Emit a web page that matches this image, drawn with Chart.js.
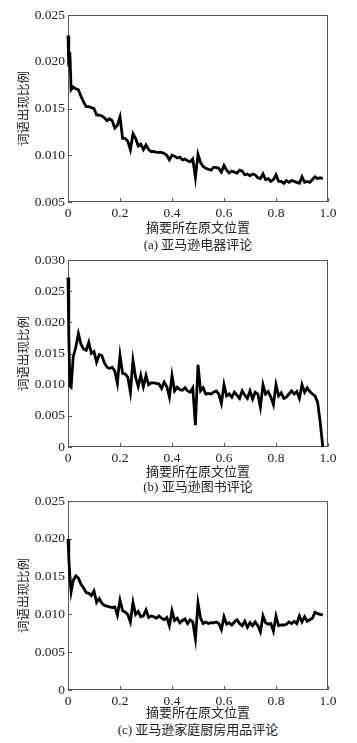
<!DOCTYPE html>
<html>
<head>
<meta charset="utf-8">
<script src="https://cdn.jsdelivr.net/npm/chart.js@4"></script>
<style>
  html, body { margin: 0; padding: 0; background: #fff; }
  body { width: 357px; height: 743px; position: relative; overflow: hidden; }
  .panel { position: absolute; left: 0; width: 357px; }
  .panel canvas { display: block; }
  .caption {
    position: absolute; left: 68px; width: 260px; text-align: center;
    font: 13px "Liberation Serif", "DejaVu Serif", "Noto Sans CJK SC", serif; color: #222;
    line-height: 16px; margin-top: -8px;
  }
</style>
</head>
<body>
<div class="panel" id="pa"><canvas id="chart-a"></canvas></div>
<div class="panel" id="pb"><canvas id="chart-b"></canvas></div>
<div class="panel" id="pc"><canvas id="chart-c"></canvas></div>
<div class="caption" style="top:245px">(a) 亚马逊电器评论</div>
<div class="caption" style="top:487px">(b) 亚马逊图书评论</div>
<div class="caption" style="top:730px">(c) 亚马逊家庭厨房用品评论</div>
<script>
// position of the summary sentence in the source text (0..1)
const pos = [0, 0.003, 0.007, 0.012, 0.02, 0.03, 0.04, 0.05, 0.06, 0.07, 0.08, 0.09,
  0.10, 0.11, 0.12, 0.13, 0.14, 0.15, 0.16, 0.17, 0.18, 0.19,
  0.20, 0.21, 0.22, 0.23, 0.24, 0.25, 0.26, 0.27, 0.28, 0.29,
  0.30, 0.31, 0.32, 0.33, 0.34, 0.35, 0.36, 0.37, 0.38, 0.39,
  0.40, 0.41, 0.42, 0.43, 0.44, 0.45, 0.46, 0.47, 0.48, 0.49,
  0.50, 0.51, 0.52, 0.53, 0.54, 0.55, 0.56, 0.57, 0.58, 0.59,
  0.60, 0.61, 0.62, 0.63, 0.64, 0.65, 0.66, 0.67, 0.68, 0.69,
  0.70, 0.71, 0.72, 0.73, 0.74, 0.75, 0.76, 0.77, 0.78, 0.79,
  0.80, 0.81, 0.82, 0.83, 0.84, 0.85, 0.86, 0.87, 0.88, 0.89,
  0.90, 0.91, 0.92, 0.93, 0.94, 0.95, 0.96, 0.97, 0.98];

// (a) electronics reviews
const ratioA = [0.0228, 0.0195, 0.0210, 0.0170, 0.0173, 0.0171, 0.0170, 0.0163, 0.0157, 0.0152, 0.0152, 0.0151,
  0.0150, 0.0143, 0.0143, 0.0142, 0.0140, 0.0137, 0.0139, 0.0137, 0.0129, 0.0132,
  0.0141, 0.0118, 0.0118, 0.0115, 0.0106, 0.0123, 0.0118, 0.0110, 0.0112, 0.0106,
  0.0111, 0.0106, 0.0104, 0.0104, 0.0103, 0.0103, 0.0103, 0.0102, 0.0100, 0.0095,
  0.0100, 0.0099, 0.0097, 0.0098, 0.0095, 0.0096, 0.0094, 0.0093, 0.0096, 0.0076,
  0.0101, 0.0092, 0.0088, 0.0086, 0.0085, 0.0084, 0.0087, 0.0087, 0.0086, 0.0082,
  0.0089, 0.0084, 0.0081, 0.0083, 0.0082, 0.0081, 0.0084, 0.0083, 0.0079, 0.0080,
  0.0078, 0.0080, 0.0079, 0.0076, 0.0075, 0.0080, 0.0074, 0.0075, 0.0072, 0.0074,
  0.0079, 0.0072, 0.0072, 0.0070, 0.0073, 0.0071, 0.0073, 0.0072, 0.0071, 0.0070,
  0.0077, 0.0071, 0.0072, 0.0071, 0.0074, 0.0077, 0.0075, 0.0076, 0.0075];

// (b) book reviews
const ratioB = [0.0272, 0.0182, 0.0098, 0.0096, 0.0145, 0.0160, 0.0182, 0.0165, 0.0157, 0.0155, 0.0168, 0.0150,
  0.0153, 0.0136, 0.0148, 0.0147, 0.0135, 0.0128, 0.0126, 0.0128, 0.0122, 0.0102,
  0.0147, 0.0118, 0.0117, 0.0112, 0.0088, 0.0139, 0.0112, 0.0097, 0.0115, 0.0097,
  0.0115, 0.0100, 0.0103, 0.0103, 0.0102, 0.0101, 0.0094, 0.0104, 0.0097, 0.0080,
  0.0115, 0.0090, 0.0096, 0.0092, 0.0091, 0.0095, 0.0090, 0.0088, 0.0095, 0.0035,
  0.0132, 0.0090, 0.0095, 0.0085, 0.0086, 0.0085, 0.0088, 0.0090, 0.0085, 0.0070,
  0.0100, 0.0082, 0.0085, 0.0080, 0.0088, 0.0083, 0.0078, 0.0090, 0.0083, 0.0078,
  0.0090, 0.0077, 0.0088, 0.0085, 0.0064, 0.0100, 0.0085, 0.0089, 0.0080, 0.0068,
  0.0100, 0.0082, 0.0087, 0.0078, 0.0080, 0.0085, 0.0090, 0.0085, 0.0089, 0.0078,
  0.0100, 0.0088, 0.0095, 0.0089, 0.0085, 0.0082, 0.0072, 0.0040, 0.0000];

// (c) home & kitchen reviews
const ratioC = [0.0200, 0.0175, 0.0150, 0.0130, 0.0145, 0.0151, 0.0148, 0.0140, 0.0135, 0.0129, 0.0128, 0.0125,
  0.0131, 0.0116, 0.0121, 0.0115, 0.0112, 0.0111, 0.0110, 0.0109, 0.0110, 0.0099,
  0.0119, 0.0105, 0.0103, 0.0100, 0.0090, 0.0116, 0.0100, 0.0104, 0.0097, 0.0098,
  0.0106, 0.0096, 0.0098, 0.0097, 0.0095, 0.0098, 0.0095, 0.0093, 0.0096, 0.0085,
  0.0105, 0.0092, 0.0095, 0.0089, 0.0092, 0.0094, 0.0088, 0.0093, 0.0090, 0.0068,
  0.0115, 0.0095, 0.0088, 0.0090, 0.0088, 0.0089, 0.0089, 0.0090, 0.0088, 0.0080,
  0.0097, 0.0087, 0.0089, 0.0086, 0.0090, 0.0093, 0.0088, 0.0085, 0.0091, 0.0083,
  0.0089, 0.0085, 0.0090, 0.0085, 0.0077, 0.0098, 0.0089, 0.0087, 0.0088, 0.0078,
  0.0098, 0.0085, 0.0086, 0.0086, 0.0087, 0.0090, 0.0088, 0.0091, 0.0088, 0.0098,
  0.0090, 0.0097, 0.0091, 0.0093, 0.0095, 0.0103, 0.0101, 0.0100, 0.0099];

const xTitle = '摘要所在原文位置';
const yTitle = '词语出现比例';

const SERIF = '"Liberation Serif", "DejaVu Serif", serif';
const CJK = '"Liberation Serif", "Noto Sans CJK SC", sans-serif';

// box frame + small inward ticks, like the printed figure
const framePlugin = {
    id: 'frame',
    beforeDatasetsDraw(chart) {
        const { ctx, chartArea: a, scales } = chart;
        ctx.save();
        ctx.strokeStyle = '#555';
        ctx.lineWidth = 1;
        ctx.strokeRect(a.left + 0.5, a.top + 0.5, a.width - 1, a.height - 1);
        ctx.beginPath();
        scales.x.ticks.forEach((t, i) => {
            const px = Math.round(scales.x.getPixelForTick(i)) + 0.5;
            ctx.moveTo(px, a.bottom);
            ctx.lineTo(px, a.bottom - 4);
        });
        scales.y.ticks.forEach((t, i) => {
            const py = Math.round(scales.y.getPixelForTick(i)) + 0.5;
            ctx.moveTo(a.left, py);
            ctx.lineTo(a.left + 4, py);
        });
        ctx.stroke();
        ctx.restore();
    }
};

function makePanel(id, panelId, values, cfg) {
    const panel = document.getElementById(panelId);
    const height = cfg.titleY + 8 - cfg.top;
    panel.style.top = cfg.top + 'px';
    panel.style.height = height + 'px';
    const canvas = document.getElementById(id);
    canvas.width = 357;
    canvas.height = height;

    new Chart(canvas.getContext('2d'), {
        type: 'line',
        data: {
            datasets: [{
                data: pos.map((p, i) => ({ x: p, y: values[i] })),
                borderColor: '#000',
                borderWidth: 2.8,
                pointRadius: 0,
                tension: 0,
                clip: false,
            }],
        },
        options: {
            responsive: false,
            animation: false,
            devicePixelRatio: 1,
            layout: { padding: { top: cfg.plotTop - cfg.top, right: 29, left: 0, bottom: 0 } },
            plugins: { legend: { display: false }, tooltip: { enabled: false } },
            scales: {
                x: {
                    type: 'linear',
                    min: 0, max: 1,
                    afterBuildTicks: (s) => { s.ticks = [0, 0.2, 0.4, 0.6, 0.8, 1.0].map(v => ({ value: v })); },
                    afterFit: (s) => { s.height = cfg.titleY + 8 - cfg.plotBottom; },
                    grid: { display: false, drawTicks: false },
                    border: { display: false },
                    ticks: {
                        padding: 3,
                        color: '#222',
                        font: { family: SERIF, size: 13.5 },
                        maxRotation: 0,
                        callback: (v) => v === 0 ? '0' : v.toFixed(1),
                    },
                    title: {
                        display: true, text: xTitle, color: '#222',
                        font: { family: CJK, size: 13 },
                        padding: { top: 0, bottom: 0 },
                    },
                },
                y: {
                    min: cfg.yMin, max: cfg.yMax,
                    afterBuildTicks: (s) => { s.ticks = cfg.yTicks.map(v => ({ value: v })); },
                    afterFit: (s) => { s.width = 68; },
                    grid: { display: false, drawTicks: false },
                    border: { display: false },
                    ticks: {
                        padding: 3,
                        color: '#222',
                        font: { family: SERIF, size: 13.5 },
                        callback: (v) => v === 0 ? '0' : v.toFixed(3),
                    },
                    title: {
                        display: true, text: yTitle, color: '#222',
                        font: { family: CJK, size: 12.5 },
                        padding: { top: 17, bottom: 0 },
                    },
                },
            },
        },
        plugins: [framePlugin],
    });
}

function drawAll() {
    makePanel('chart-a', 'pa', ratioA, {
        top: 0, plotTop: 15, plotBottom: 202, titleY: 228,
        yMin: 0.005, yMax: 0.025, yTicks: [0.005, 0.010, 0.015, 0.020, 0.025],
    });
    makePanel('chart-b', 'pb', ratioB, {
        top: 245, plotTop: 260, plotBottom: 447, titleY: 472,
        yMin: 0, yMax: 0.030, yTicks: [0, 0.005, 0.010, 0.015, 0.020, 0.025, 0.030],
    });
    makePanel('chart-c', 'pc', ratioC, {
        top: 490, plotTop: 501, plotBottom: 690, titleY: 713,
        yMin: 0, yMax: 0.025, yTicks: [0, 0.005, 0.010, 0.015, 0.020, 0.025],
    });
}

// make sure the serif face is ready before the canvases measure text
Promise.all([
    document.fonts.load('13px "Liberation Serif"'),
    document.fonts.load('13px "Noto Sans CJK SC"', '词语'),
]).then(drawAll, drawAll);
</script>
</body>
</html>
